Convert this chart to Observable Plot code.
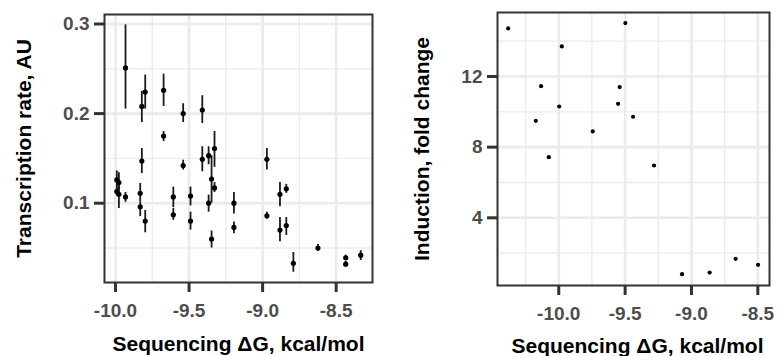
<!DOCTYPE html>
<html>
<head>
<meta charset="utf-8">
<script src="https://cdn.jsdelivr.net/npm/d3@7"></script>
<script src="https://cdn.jsdelivr.net/npm/@observablehq/plot@0.6"></script>
<style>
  html, body { margin: 0; padding: 0; background: #fff; }
  #wrap { display: flex; width: 778px; height: 356px; }
  svg { font-family: "Liberation Sans", Arial, sans-serif; }
</style>
</head>
<body>
<div id="wrap"></div>
<script>
// ---- Left panel: transcription rate vs sequencing dG (with error bars) ----
const leftX  = [-9.932,-9.821,-9.798,-9.673,-9.673,-9.540,-9.410,-9.327,-9.991,-9.977,-9.991,-9.977,-9.932,-9.821,-9.832,-9.832,-9.798,-9.540,-9.607,-9.607,-9.490,-9.490,-9.410,-9.367,-9.347,-9.367,-9.327,-9.347,-9.195,-9.195,-8.971,-8.971,-8.882,-8.839,-8.882,-8.839,-8.791,-8.624,-8.435,-8.435,-8.333];
const leftY  = [0.251,0.208,0.224,0.226,0.175,0.200,0.204,0.161,0.126,0.123,0.113,0.110,0.107,0.147,0.111,0.096,0.080,0.142,0.107,0.087,0.108,0.080,0.149,0.153,0.127,0.100,0.117,0.060,0.100,0.073,0.149,0.086,0.110,0.116,0.070,0.075,0.033,0.050,0.039,0.032,0.042];
const leftLo = [0.205,0.190,0.205,0.208,0.169,0.190,0.189,0.140,0.115,0.114,0.108,0.094,0.101,0.133,0.101,0.085,0.067,0.137,0.095,0.081,0.097,0.070,0.135,0.143,0.100,0.090,0.112,0.050,0.088,0.066,0.137,0.082,0.096,0.111,0.057,0.064,0.023,0.046,0.036,0.030,0.036];
const leftHi = [0.299,0.225,0.243,0.244,0.180,0.211,0.220,0.180,0.136,0.134,0.118,0.125,0.112,0.161,0.122,0.101,0.092,0.148,0.118,0.094,0.118,0.090,0.163,0.163,0.153,0.109,0.123,0.069,0.112,0.079,0.161,0.090,0.123,0.121,0.084,0.084,0.045,0.054,0.042,0.035,0.047];

// ---- Right panel: induction fold change vs sequencing dG ----
const rightX = [-10.381,-9.498,-9.977,-10.133,-9.541,-9.997,-9.553,-10.173,-9.440,-9.744,-10.075,-9.282,-9.071,-8.863,-8.667,-8.498];
const rightY = [14.72,15.02,13.70,11.45,11.40,10.30,10.45,9.49,9.72,8.89,7.43,6.96,0.81,0.90,1.68,1.34];

// ---- Ticks / grid ----
const xMajor = [-10, -9.5, -9, -8.5];
const xMinorLeft = [-9.75, -9.25, -8.75];
const xMinorRight = [-10.25, -9.75, -9.25, -8.75];
const yMajorLeft = [0.1, 0.2, 0.3];
const yMinorLeft = [0.05, 0.15, 0.25];
const yMajorRight = [4, 8, 12];
const yMinorRight = [2, 6, 10, 14];

const xTitle = "Sequencing \u0394G, kcal/mol";
const yTitleLeft = "Transcription rate, AU";
const yTitleRight = "Induction, fold change";

const gridCol = "#ebebeb";
const tickFont = 19, titleFont = 21, tickLen = 10;

function axes(xDom, yDom, yTicks, yFmt, yTitle, yDx, xDy, xDx) {
  return [
    Plot.ruleX(xMajor, {x: d => d, y1: () => yDom[0], y2: () => yDom[0], insetTop: tickLen,
      stroke: "#333333", strokeWidth: 3}),
    Plot.ruleY(yTicks, {y: d => d, x1: () => xDom[0], x2: () => xDom[0], insetRight: tickLen,
      stroke: "#333333", strokeWidth: 3}),
    Plot.axisX(xMajor, {tickSize: 0, tickPadding: tickLen + 11, fill: "#4d4d4d",
      fontSize: tickFont, fontWeight: "bold", tickFormat: d => d.toFixed(1), label: null}),
    Plot.axisY(yTicks, {tickSize: 0, tickPadding: tickLen + 5, fill: "#4d4d4d",
      fontSize: tickFont, fontWeight: "bold", tickFormat: yFmt, label: null}),
    Plot.text([xTitle], {frameAnchor: "bottom", text: d => d, dx: xDx, dy: xDy, lineAnchor: "bottom",
      fontSize: titleFont, fontWeight: "bold", fill: "black"}),
    Plot.text([yTitle], {frameAnchor: "left", text: d => d, rotate: -90, dx: yDx, lineAnchor: "middle",
      textAnchor: "middle", fontSize: titleFont, fontWeight: "bold", fill: "black"})
  ];
}

const leftData = leftX.map((x, i) => ({x, y: leftY[i], lo: leftLo[i], hi: leftHi[i]}));
const rightData = rightX.map((x, i) => ({x, y: rightY[i]}));

const lxDom = [-10.0748, -8.253], lyDom = [0.0115, 0.3106];
const left = Plot.plot({
  width: 390, height: 356,
  marginLeft: 104, marginRight: 18, marginTop: 14, marginBottom: 74,
  x: {domain: lxDom},
  y: {domain: lyDom},
  marks: [
    Plot.gridX(xMinorLeft, {stroke: gridCol, strokeOpacity: 1, strokeWidth: 1.3}),
    Plot.gridY(yMinorLeft, {stroke: gridCol, strokeOpacity: 1, strokeWidth: 1.3}),
    Plot.gridX(xMajor, {stroke: gridCol, strokeOpacity: 1, strokeWidth: 2.6}),
    Plot.gridY(yMajorLeft, {stroke: gridCol, strokeOpacity: 1, strokeWidth: 2.6}),
    Plot.ruleX(leftData, {x: "x", y1: "lo", y2: "hi", stroke: "#1a1a1a", strokeWidth: 1.8}),
    Plot.dot(leftData, {x: "x", y: "y", r: 2.6, fill: "black", stroke: null}),
    Plot.frame({stroke: "#333333", strokeWidth: 2}),
    ...axes(lxDom, lyDom, yMajorLeft, d => d.toFixed(1), yTitleLeft, -80, 68, 0)
  ]
});

const rxDom = [-10.4616, -8.412], ryDom = [0.17, 15.62];
const right = Plot.plot({
  width: 388, height: 356,
  marginLeft: 107, marginRight: 9, marginTop: 12, marginBottom: 71,
  x: {domain: rxDom},
  y: {domain: ryDom},
  marks: [
    Plot.gridX(xMinorRight, {stroke: gridCol, strokeOpacity: 1, strokeWidth: 1.3}),
    Plot.gridY(yMinorRight, {stroke: gridCol, strokeOpacity: 1, strokeWidth: 1.3}),
    Plot.gridX(xMajor, {stroke: gridCol, strokeOpacity: 1, strokeWidth: 2.6}),
    Plot.gridY(yMajorRight, {stroke: gridCol, strokeOpacity: 1, strokeWidth: 2.6}),
    Plot.dot(rightData, {x: "x", y: "y", r: 2.1, fill: "black", stroke: null}),
    Plot.frame({stroke: "#333333", strokeWidth: 2}),
    ...axes(rxDom, ryDom, yMajorRight, d => String(d), yTitleRight, -75, 67, 4)
  ]
});

document.getElementById("wrap").append(left, right);
</script>
</body>
</html>
